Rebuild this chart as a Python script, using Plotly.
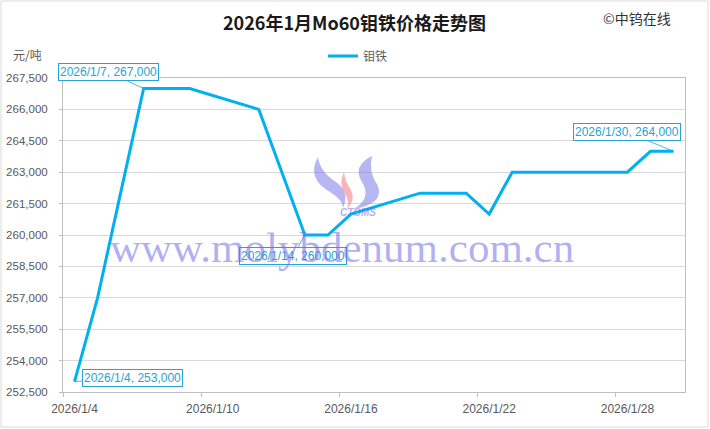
import plotly.graph_objects as go

# ---- data ----
dates = ['2026-01-04', '2026-01-05', '2026-01-06', '2026-01-07', '2026-01-08', '2026-01-09',
         '2026-01-12', '2026-01-13', '2026-01-14', '2026-01-15', '2026-01-16',
         '2026-01-19', '2026-01-20', '2026-01-21', '2026-01-22', '2026-01-23',
         '2026-01-26', '2026-01-27', '2026-01-28', '2026-01-29', '2026-01-30']
prices = [253000, 257000, 262000, 267000, 267000, 267000,
          266000, 263000, 260000, 260000, 261000,
          262000, 262000, 262000, 261000, 263000,
          263000, 263000, 263000, 264000, 264000]
series_name = '钼铁'
title_text = '2026年1月Mo60钼铁价格走势图'
y_ticks = [252500, 254000, 255500, 257000, 258500, 260000, 261500, 263000, 264500, 266000, 267500]
x_tickvals = ['2026-01-04', '2026-01-10', '2026-01-16', '2026-01-22', '2026-01-28']
x_ticktext = ['2026/1/4', '2026/1/10', '2026/1/16', '2026/1/22', '2026/1/28']
labelled = ['2026-01-04', '2026-01-07', '2026-01-14', '2026-01-30']
label_offsets = {'2026-01-04': (58, -4), '2026-01-07': (-35, -16),
                 '2026-01-14': (-12, 21), '2026-01-30': (-46, -19)}

W, H = 710, 429
L, R, T, B = 63, 25, 78, 37
PW, PH = W - L - R, H - T - B

def px(x):
    return (x - L) / PW

def py(y):
    return (H - B - y) / PH

LINE = '#00b0f0'
LABEL = '#27a3d3'
GRAY = '#595959'
FONT = 'Liberation Sans, Noto Sans CJK SC, sans-serif'

fig = go.Figure()
fig.add_trace(go.Scatter(x=dates, y=prices, mode='lines', name=series_name,
                         line=dict(color=LINE, width=3), showlegend=True))

annotations = []
for d in labelled:
    i = dates.index(d)
    yy, mm, dd = d.split('-')
    txt = f"{int(yy)}/{int(mm)}/{int(dd)}, {prices[i]:,}"
    ax, ay = label_offsets[d]
    annotations.append(dict(x=d, y=prices[i], xref='x', yref='y', text=txt,
                            showarrow=True, arrowhead=0, arrowwidth=0.8, arrowcolor=LABEL,
                            ax=ax, ay=ay, font=dict(size=12, color=LABEL, family=FONT),
                            bgcolor='rgba(255,255,255,0.85)', bordercolor=LABEL, borderwidth=1,
                            borderpad=1))

# title, source, unit
annotations += [
    dict(text=f'<b>{title_text}</b>', x=px(354), y=py(22), xref='paper', yref='paper',
         xanchor='center', yanchor='middle',
         showarrow=False, font=dict(size=18, color='#1a1a1a', family='Noto Sans CJK SC')),
    dict(text='©中钨在线', x=px(673), y=py(18), xref='paper', yref='paper',
         xanchor='right', yanchor='middle',
         showarrow=False, font=dict(size=14, color='#333333', family='Noto Sans CJK SC')),
    dict(text='元/吨', x=px(11), y=py(55), xref='paper', yref='paper',
         xanchor='left', yanchor='middle',
         showarrow=False, font=dict(size=12, color=GRAY, family='Noto Sans CJK SC')),
    # watermark
    dict(text='www.molybdenum.com.cn', x=px(342), y=py(247), xref='paper', yref='paper',
         xanchor='center', yanchor='middle',
         showarrow=False, font=dict(size=43, color='rgba(110,110,230,0.55)',
                                    family='Liberation Serif, DejaVu Serif, serif')),
    dict(text='<b><i>CTOMS</i></b>', x=px(358), y=py(212), xref='paper', yref='paper',
         xanchor='center', yanchor='middle',
         showarrow=False, font=dict(size=10, color='rgba(110,110,230,0.55)', family='Liberation Sans')),
]

def path(points_cmds):
    out = []
    for c in points_cmds:
        if isinstance(c, str):
            out.append(c)
        else:
            out.append(f"{px(c[0]):.4f},{py(c[1]):.4f}")
    return ' '.join(out)

shapes = [
    # outer chart border
    dict(type='rect', xref='paper', yref='paper', x0=px(1), x1=px(708), y0=py(427), y1=py(1),
         line=dict(color='#d9d9d9', width=1), layer='below'),
    # logo left flame
    dict(type='path', xref='paper', yref='paper', layer='above', line=dict(width=0),
         fillcolor='rgba(110,110,230,0.5)',
         path=path(['M', (318, 157), 'Q', (306, 178), (330, 192), 'Q', (343, 200), (343, 208),
                    'Q', (350, 192), (336, 182), 'Q', (320, 172), (318, 157), 'Z'])),
    # logo right flame
    dict(type='path', xref='paper', yref='paper', layer='above', line=dict(width=0),
         fillcolor='rgba(110,110,230,0.5)',
         path=path(['M', (372, 156), 'Q', (352, 166), (362, 182), 'Q', (372, 198), (354, 209),
                    'Q', (384, 204), (378, 186), 'Q', (368, 172), (372, 156), 'Z'])),
    # logo pink middle
    dict(type='path', xref='paper', yref='paper', layer='above', line=dict(width=0),
         fillcolor='rgba(240,120,130,0.55)',
         path=path(['M', (344, 172), 'Q', (338, 184), (345, 194), 'Q', (350, 202), (347, 209),
                    'Q', (356, 200), (351, 190), 'Q', (345, 182), (344, 172), 'Z'])),
]

fig.update_layout(
    width=W, height=H,
    margin=dict(l=L, r=R, t=T, b=B, pad=0, autoexpand=False),
    paper_bgcolor='white', plot_bgcolor='white',
    font=dict(family=FONT, size=12, color=GRAY),
    showlegend=True,
    legend=dict(orientation='h', x=px(323), y=py(56), xanchor='left', yanchor='middle',
                font=dict(size=12, color=GRAY, family='Noto Sans CJK SC'),
                bgcolor='rgba(0,0,0,0)', itemwidth=30),
    annotations=annotations,
    shapes=shapes,
    xaxis=dict(type='date', range=['2026-01-03 12:00', '2026-01-30 12:00'],
               tickvals=x_tickvals, ticktext=x_ticktext, ticks='', showgrid=False,
               showline=True, linecolor='#bfbfbf', linewidth=1, mirror=True,
               tickfont=dict(size=12, color=GRAY), ticklabelstandoff=6, automargin=False,
               minor=dict(tickvals=['2026-01-03 12:00', '2026-01-09 12:00', '2026-01-15 12:00',
                                    '2026-01-21 12:00', '2026-01-27 12:00'],
                          ticks='outside', ticklen=4, tickcolor='#bfbfbf', showgrid=False),
               zeroline=False, fixedrange=True),
    yaxis=dict(range=[252500, 267500], tickvals=y_ticks, tickformat=',d',
               showgrid=True, gridcolor='#d9d9d9', gridwidth=1,
               showline=True, linecolor='#bfbfbf', linewidth=1, mirror=True,
               ticks='outside', ticklen=3, tickcolor='#bfbfbf', automargin=False,
               tickfont=dict(size=11.5, color=GRAY), ticklabelstandoff=9,
               zeroline=False, fixedrange=True),
)

fig.write_html('out.html', config={'displayModeBar': False},
               post_script="document.body.style.margin='0';document.body.style.padding='0';"
                           "document.documentElement.style.overflow='hidden';")
